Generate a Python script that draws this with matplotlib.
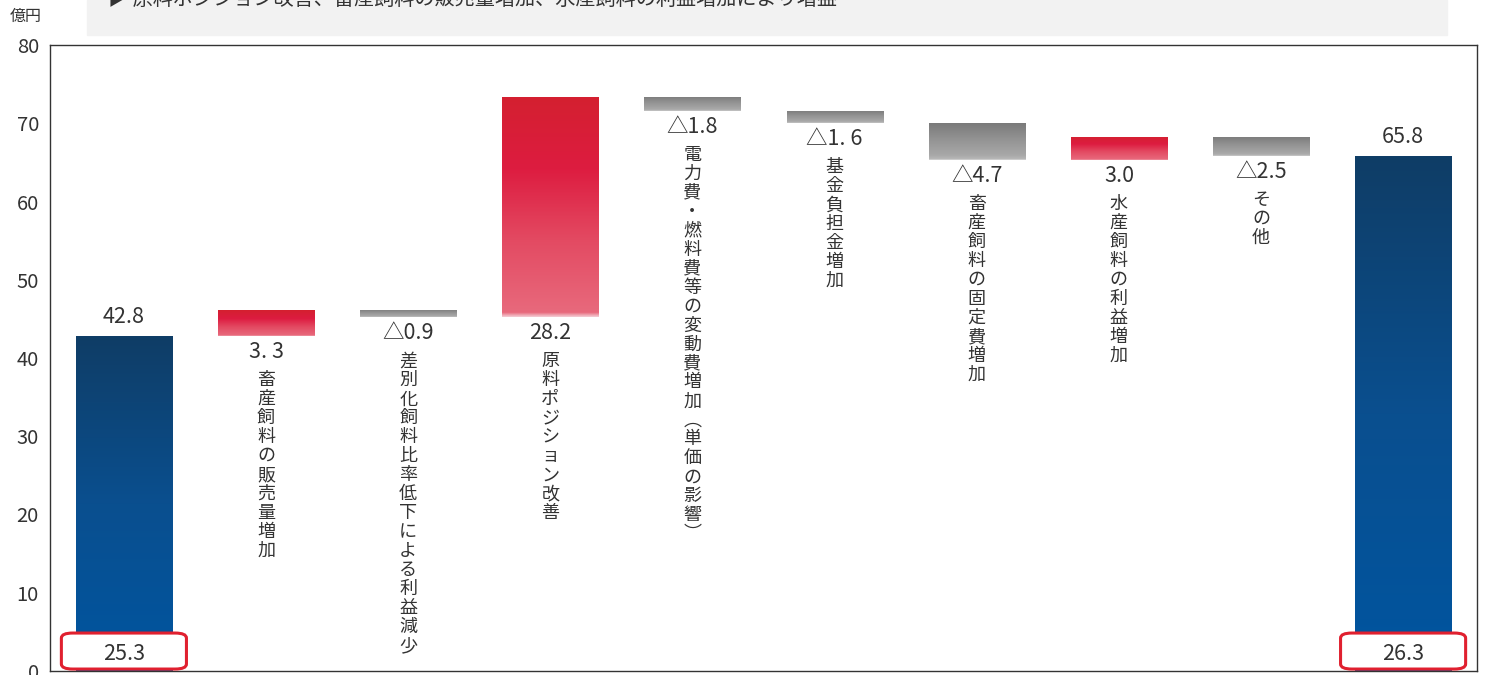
import numpy as np
import matplotlib
matplotlib.use('Agg')
import matplotlib.pyplot as plt
from matplotlib.colors import LinearSegmentedColormap
from matplotlib.patches import FancyBboxPatch, Rectangle

plt.rcParams['font.family'] = ['Noto Sans CJK JP', 'DejaVu Sans']

# データ(億円)
categories = ['前期', '畜産飼料の販売量増加', '差別化飼料比率低下による利益減少', '原料ポジション改善',
              '電力費・燃料費等の変動費増加(単価の影響)', '基金負担金増加', '畜産飼料の固定費増加',
              '水産飼料の利益増加', 'その他', '当期']
start_total = 42.8
deltas = [3.3, -0.9, 28.2, -1.8, -1.6, -4.7, 3.0, -2.5]
end_total = 65.8
value_labels = ['42.8', '3. 3', '△0.9', '28.2', '△1.8', '△1. 6', '△4.7', '3.0', '△2.5', '65.8']
box_labels = ['25.3', '26.3']
title_text = '▶ 原料ポジション改善、畜産飼料の販売量増加、水産飼料の利益増加により増益'

cm_blue = LinearSegmentedColormap.from_list('b', ['#0055a0', '#0a4f8f', '#0f3d66'])
cm_red = LinearSegmentedColormap.from_list('r', ['#f3c6cf', '#e8697c', '#e34a62', '#dd1c40', '#d42030'])
cm_gray = LinearSegmentedColormap.from_list('g', ['#e6e6e6', '#a8a8a8', '#939393', '#7a7a7a'])

fig = plt.figure(figsize=(14.87, 6.75), dpi=100)
ax = fig.add_axes([50 / 1487, 4 / 675, 1427 / 1487, 626 / 675])

# 上部の見出し帯
fig.patches.append(Rectangle((87 / 1487, 1 - 35 / 675), 1360 / 1487, 35 / 675,
                             transform=fig.transFigure, color='#f2f2f2', zorder=0))
fig.text(108 / 1487, 1 + 1 / 675, title_text, fontsize=14.5, color='#333333', va='center')
fig.text(10 / 1487, 1 - 16 / 675, '億円', fontsize=11.5, color='#333333', va='center')

x = np.arange(len(categories))
w = 0.676

# ウォーターフォールの下端・上端
cum = start_total + np.cumsum(deltas)
prev = np.concatenate([[start_total], cum[:-1]])
bottoms = [0] + list(np.minimum(prev, cum)) + [0]
heights = [start_total] + list(np.abs(deltas)) + [end_total]
kinds = ['t'] + ['u' if d > 0 else 'd' for d in deltas] + ['t']

grad = np.linspace(0, 1, 256).reshape(-1, 1)
for i in range(len(categories)):
    b = ax.bar(x[i], heights[i], bottom=bottoms[i], width=w, color='none', zorder=2)[0]
    cmap = {'t': cm_blue, 'u': cm_red, 'd': cm_gray}[kinds[i]]
    g = grad
    if kinds[i] != 't':
        g = np.concatenate([np.linspace(0, 0.25, 6), np.linspace(0.25, 1, 250)]).reshape(-1, 1)
    im = ax.imshow(g, extent=[x[i] - w / 2, x[i] + w / 2, bottoms[i], bottoms[i] + heights[i]],
                   origin='lower', aspect='auto', cmap=cmap, vmin=0, vmax=1, zorder=2)
    im.set_clip_path(b)

# 数値ラベルと項目名
for i in range(len(categories)):
    if kinds[i] == 't':
        ax.annotate(value_labels[i], (x[i], bottoms[i] + heights[i]), xytext=(0, 8),
                    textcoords='offset pixels', ha='center', va='bottom', fontsize=15.5, color='#333333')
    else:
        ax.annotate(value_labels[i], (x[i], bottoms[i]), xytext=(0, -5),
                    textcoords='offset pixels', ha='center', va='top', fontsize=15.5, color='#333333')
        label = categories[i].replace('(', '︵').replace(')', '︶')
        ax.annotate('\n'.join(label), (x[i], bottoms[i]), xytext=(0, -35),
                    textcoords='offset pixels', ha='center', va='top', fontsize=13,
                    linespacing=1.07, color='#333333')

# 下部の枠付き数値
for xi, lab in zip([x[0], x[-1]], box_labels):
    ax.add_patch(FancyBboxPatch((xi - 0.44, 0.25), 0.88, 4.6,
                                boxstyle='round,pad=0,rounding_size=0.08',
                                mutation_aspect=8, facecolor='white', edgecolor='#e0202f',
                                linewidth=2.2, zorder=4, clip_on=False))
    ax.text(xi, 2.2, lab, ha='center', va='center', fontsize=15.5, color='#333333', zorder=5)

ax.set_xlim(-0.52, len(categories) - 0.48)
ax.set_ylim(0, 80)
ax.set_yticks(range(0, 81, 10))
ax.set_xticks([])
ax.tick_params(axis='y', length=0, labelsize=14.5, labelcolor='#333333', pad=8)
for s in ax.spines.values():
    s.set_color('#333333')
    s.set_linewidth(1)

fig.savefig('out.png', dpi=100)
